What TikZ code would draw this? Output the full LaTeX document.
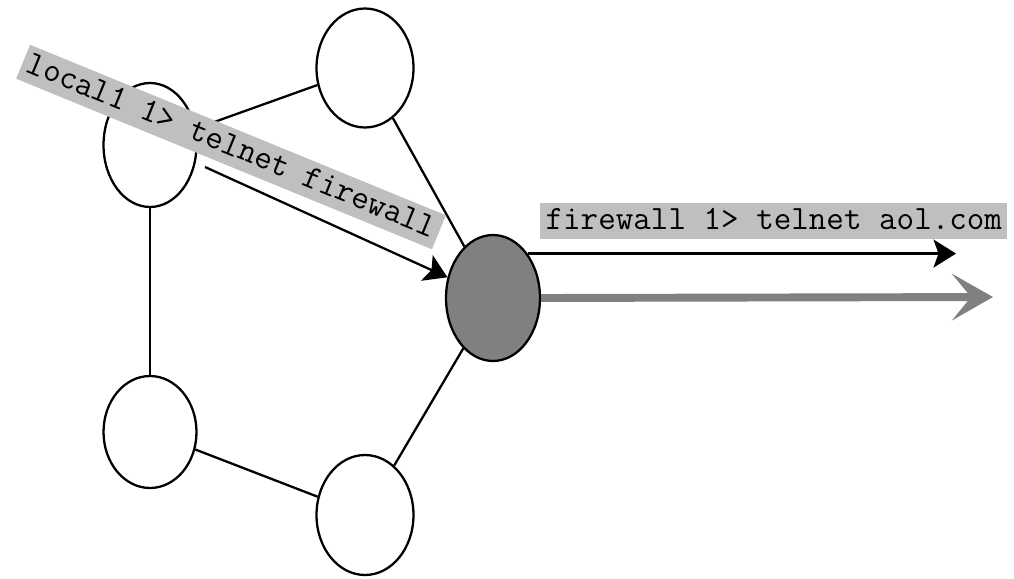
\documentclass[tikz,border=0pt]{standalone}
\usetikzlibrary{shapes.geometric,arrows.meta}

\begin{document}
\begin{tikzpicture}[x=0.02cm, y=-0.02cm]
        \tikzstyle{nodeStyle} = [ellipse,draw=black,fill=white,line width=1.3pt,inner sep=0pt]
        \tikzstyle{blackEdge} = [draw=black, line width=1.3pt]
        \tikzstyle{cmdLabel} = [fill=black!25, inner xsep=3pt, inner ysep=2.4pt,
                font=\ttfamily\fontsize{19.4}{22}\selectfont, text height=12.7pt, text depth=3.4pt]
        \useasboundingbox (0,0) rectangle (1014,578);
        \node[nodeStyle, minimum width=1.94cm, minimum height=2.38cm] (1) at (365,68) {};
        \node[nodeStyle, minimum width=1.86cm, minimum height=2.48cm] (2) at (150,145) {};
        \node[nodeStyle, minimum width=1.86cm, minimum height=2.24cm] (3) at (150,432) {};
        \node[nodeStyle, minimum width=1.94cm, minimum height=2.40cm] (4) at (365,515) {};
        \node[nodeStyle, fill=black!50, minimum width=1.88cm, minimum height=2.52cm] (5) at (493,298) {};
        \foreach \from/\to in {2/1, 1/5, 2/3, 3/4, 4/5}
            \path[blackEdge] (\from) edge (\to);
        % telnet hops
        \coordinate (src) at (205,167);
        \coordinate (end1) at (956,255);
        \coordinate (end2) at (993,297);
        \draw[blackEdge, -{Stealth[length=0.45cm, width=0.56cm, inset=0.1cm]}] (src) -- (5);
        \draw[blackEdge, -{Stealth[length=0.45cm, width=0.56cm, inset=0.1cm]}] (5.52) -- (5.52 -| end1);
        \draw[black!50, line width=4.5pt, -{Stealth[length=0.82cm, width=0.93cm, inset=0.38cm]}] (5.east) -- (end2);
        \node[cmdLabel, rotate=-22.3] (l1) at (231,147) {local1 1> telnet firewall};
        \node[cmdLabel, anchor=west] (l2) at (540,221) {firewall 1> telnet aol.com};
\end{tikzpicture}
\end{document}
